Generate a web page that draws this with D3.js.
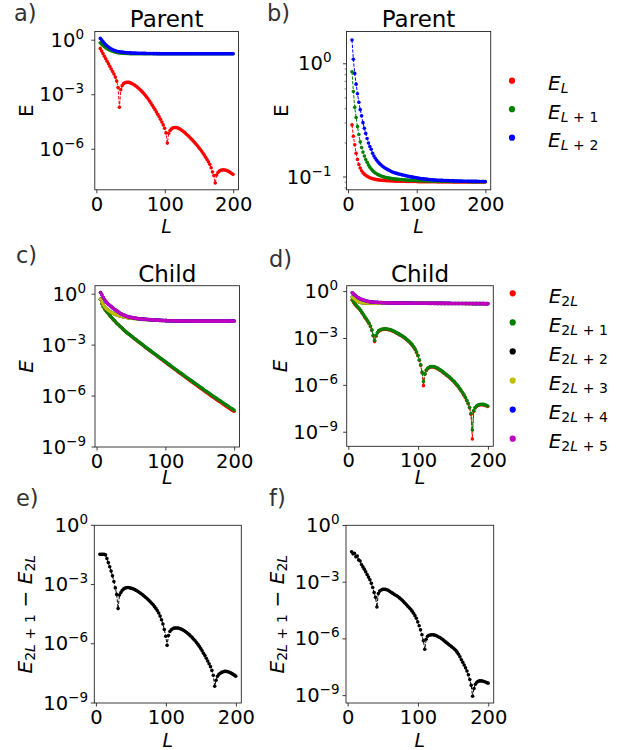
<!DOCTYPE html>
<html>
<head>
<meta charset="utf-8">
<script src="https://cdn.jsdelivr.net/npm/d3@7"></script>
<style>
  body { margin: 0; background: #fff; }
  svg { display: block; }
  text { font-family: "DejaVu Sans", sans-serif; white-space: pre; }
</style>
</head>
<body>
<svg id="fig" width="630" height="750"></svg>
<script>
// Chain length L (odd values 5 ... 199)
const L = d3.range(5, 200, 2);

// ---- Parent, open chain: log10 of the three lowest levels ----
const aEL = [
  -0.45,-0.60,-0.74,-0.88,-1.02,-1.16,-1.30,-1.44,-1.58,-1.72,
  -1.86,-2.03,-2.25,-2.60,-3.69,-2.72,-2.50,-2.39,-2.34,-2.32,
  -2.31,-2.32,-2.35,-2.38,-2.42,-2.47,-2.52,-2.58,-2.64,-2.71,
  -2.79,-2.87,-2.95,-3.04,-3.14,-3.24,-3.35,-3.46,-3.58,-3.70,
  -3.82,-3.95,-4.08,-4.21,-4.35,-4.50,-4.66,-4.85,-5.10,-5.66,
  -5.12,-4.97,-4.88,-4.83,-4.80,-4.80,-4.81,-4.84,-4.88,-4.93,
  -4.98,-5.04,-5.10,-5.17,-5.24,-5.31,-5.39,-5.47,-5.55,-5.63,
  -5.72,-5.81,-5.90,-6.00,-6.10,-6.21,-6.32,-6.44,-6.56,-6.69,
  -6.83,-7.02,-7.25,-7.45,-7.86,-7.42,-7.28,-7.20,-7.16,-7.14,
  -7.13,-7.14,-7.16,-7.19,-7.23,-7.28,-7.33,-7.38];
const aEL1 = [
  -0.14,-0.22,-0.29,-0.36,-0.42,-0.47,-0.51,-0.55,-0.58,-0.61,
  -0.635,-0.655,-0.672,-0.686,-0.697,-0.706,-0.714,-0.72,-0.725,-0.729,
  -0.733,-0.736,-0.739,-0.741,-0.743,-0.745,-0.746,-0.746,-0.747,-0.747,
  -0.747,-0.747,-0.747,-0.747,-0.747,-0.747,-0.747,-0.747,-0.747,-0.747,
  -0.747,-0.747,-0.747,-0.747,-0.747,-0.747,-0.747,-0.747,-0.747,-0.747,
  -0.747,-0.747,-0.747,-0.747,-0.747,-0.748,-0.748,-0.748,-0.748,-0.748,
  -0.748,-0.748,-0.748,-0.748,-0.748,-0.748,-0.748,-0.748,-0.748,-0.748,
  -0.748,-0.748,-0.748,-0.748,-0.748,-0.748,-0.748,-0.748,-0.748,-0.748,
  -0.748,-0.748,-0.748,-0.748,-0.748,-0.748,-0.748,-0.748,-0.748,-0.748,
  -0.748,-0.748,-0.748,-0.748,-0.748,-0.748,-0.748,-0.748];
const aEL2 = [
  0.10,0.02,-0.08,-0.17,-0.25,-0.32,-0.38,-0.43,-0.48,-0.52,
  -0.555,-0.58,-0.605,-0.62,-0.635,-0.648,-0.658,-0.666,-0.674,-0.681,
  -0.687,-0.692,-0.697,-0.701,-0.705,-0.708,-0.711,-0.714,-0.716,-0.718,
  -0.72,-0.722,-0.724,-0.726,-0.728,-0.73,-0.732,-0.734,-0.735,-0.736,
  -0.737,-0.738,-0.739,-0.74,-0.741,-0.741,-0.742,-0.742,-0.742,-0.743,
  -0.743,-0.743,-0.743,-0.743,-0.744,-0.744,-0.744,-0.744,-0.744,-0.744,
  -0.744,-0.744,-0.744,-0.744,-0.744,-0.744,-0.745,-0.745,-0.745,-0.745,
  -0.745,-0.745,-0.745,-0.745,-0.745,-0.745,-0.745,-0.745,-0.745,-0.745,
  -0.745,-0.745,-0.745,-0.745,-0.745,-0.745,-0.745,-0.745,-0.745,-0.745,
  -0.745,-0.745,-0.745,-0.745,-0.745,-0.745,-0.745,-0.745];

// ---- Parent, periodic chain ----
const bEL = [
  -0.54,-0.64,-0.715,-0.79,-0.845,-0.89,-0.92,-0.945,-0.962,-0.975,
  -0.985,-0.993,-1.0,-1.006,-1.011,-1.015,-1.018,-1.021,-1.023,-1.025,
  -1.027,-1.028,-1.029,-1.03,-1.031,-1.032,-1.033,-1.033,-1.034,-1.034,
  -1.035,-1.035,-1.036,-1.036,-1.037,-1.037,-1.037,-1.038,-1.038,-1.038,
  -1.039,-1.039,-1.039,-1.039,-1.04,-1.04,-1.04,-1.04,-1.041,-1.041,
  -1.041,-1.041,-1.041,-1.041,-1.042,-1.042,-1.042,-1.042,-1.042,-1.042,
  -1.042,-1.042,-1.043,-1.043,-1.043,-1.043,-1.043,-1.043,-1.043,-1.043,
  -1.043,-1.043,-1.043,-1.043,-1.044,-1.044,-1.044,-1.044,-1.044,-1.044,
  -1.044,-1.044,-1.044,-1.044,-1.044,-1.044,-1.044,-1.044,-1.044,-1.044,
  -1.044,-1.044,-1.044,-1.044,-1.044,-1.044,-1.044,-1.044];
const bEL1 = [
  -0.07,-0.245,-0.385,-0.475,-0.555,-0.625,-0.69,-0.74,-0.78,-0.815,
  -0.845,-0.87,-0.893,-0.913,-0.93,-0.944,-0.955,-0.964,-0.972,-0.979,
  -0.985,-0.99,-0.995,-0.999,-1.002,-1.005,-1.008,-1.01,-1.012,-1.014,
  -1.016,-1.018,-1.019,-1.02,-1.021,-1.022,-1.023,-1.024,-1.025,-1.026,
  -1.027,-1.028,-1.029,-1.029,-1.03,-1.03,-1.031,-1.031,-1.032,-1.032,
  -1.033,-1.033,-1.033,-1.034,-1.034,-1.034,-1.035,-1.035,-1.035,-1.036,
  -1.036,-1.036,-1.037,-1.037,-1.037,-1.037,-1.038,-1.038,-1.038,-1.038,
  -1.038,-1.039,-1.039,-1.039,-1.039,-1.039,-1.039,-1.04,-1.04,-1.04,
  -1.04,-1.04,-1.04,-1.04,-1.04,-1.041,-1.041,-1.041,-1.041,-1.041,
  -1.041,-1.041,-1.041,-1.041,-1.041,-1.041,-1.041,-1.041];
const bEL2 = [
  0.21,0.04,-0.085,-0.18,-0.265,-0.34,-0.405,-0.46,-0.52,-0.57,
  -0.615,-0.66,-0.70,-0.73,-0.755,-0.79,-0.815,-0.835,-0.853,-0.868,
  -0.88,-0.892,-0.903,-0.912,-0.92,-0.928,-0.935,-0.941,-0.947,-0.953,
  -0.958,-0.962,-0.966,-0.97,-0.973,-0.976,-0.979,-0.982,-0.985,-0.988,
  -0.991,-0.994,-0.997,-0.999,-1.001,-1.003,-1.005,-1.007,-1.009,-1.011,
  -1.013,-1.015,-1.016,-1.018,-1.019,-1.021,-1.022,-1.023,-1.024,-1.025,
  -1.026,-1.027,-1.028,-1.029,-1.029,-1.03,-1.03,-1.031,-1.031,-1.032,
  -1.032,-1.033,-1.033,-1.034,-1.034,-1.035,-1.035,-1.035,-1.036,-1.036,
  -1.036,-1.037,-1.037,-1.037,-1.038,-1.038,-1.038,-1.038,-1.039,-1.039,
  -1.039,-1.039,-1.04,-1.04,-1.04,-1.04,-1.04,-1.04];

// ---- Child, left column: six lowest levels ----
const cE0 = [
  -0.30,-0.55,-0.74,-0.87,-0.98,-1.08,-1.17,-1.28,-1.37,-1.46,
  -1.55,-1.64,-1.73,-1.80,-1.88,-1.95,-2.03,-2.11,-2.18,-2.25,
  -2.32,-2.38,-2.45,-2.51,-2.58,-2.64,-2.70,-2.77,-2.83,-2.89,
  -2.95,-3.02,-3.09,-3.15,-3.21,-3.27,-3.33,-3.39,-3.45,-3.51,
  -3.57,-3.63,-3.70,-3.76,-3.82,-3.88,-3.94,-4.00,-4.06,-4.12,
  -4.18,-4.24,-4.30,-4.36,-4.42,-4.48,-4.55,-4.61,-4.67,-4.72,
  -4.78,-4.84,-4.90,-4.96,-5.02,-5.08,-5.14,-5.20,-5.26,-5.32,
  -5.37,-5.43,-5.49,-5.55,-5.61,-5.67,-5.73,-5.79,-5.84,-5.90,
  -5.96,-6.02,-6.07,-6.13,-6.19,-6.24,-6.30,-6.35,-6.41,-6.47,
  -6.52,-6.58,-6.63,-6.69,-6.75,-6.80,-6.85,-6.90];
const cE1 = [
  -0.30,-0.55,-0.74,-0.87,-0.98,-1.08,-1.17,-1.28,-1.37,-1.46,
  -1.55,-1.64,-1.73,-1.80,-1.88,-1.95,-2.03,-2.11,-2.18,-2.25,
  -2.32,-2.38,-2.44,-2.50,-2.57,-2.63,-2.69,-2.76,-2.82,-2.88,
  -2.94,-3.00,-3.07,-3.13,-3.19,-3.25,-3.31,-3.37,-3.43,-3.49,
  -3.55,-3.61,-3.67,-3.73,-3.79,-3.85,-3.91,-3.97,-4.03,-4.09,
  -4.15,-4.21,-4.27,-4.33,-4.39,-4.45,-4.51,-4.57,-4.63,-4.68,
  -4.74,-4.80,-4.86,-4.92,-4.98,-5.03,-5.09,-5.15,-5.21,-5.27,
  -5.32,-5.38,-5.44,-5.50,-5.55,-5.61,-5.67,-5.73,-5.78,-5.84,
  -5.90,-5.95,-6.01,-6.06,-6.12,-6.17,-6.23,-6.28,-6.34,-6.39,
  -6.45,-6.50,-6.56,-6.61,-6.67,-6.72,-6.77,-6.82];
const cE3 = [
  -0.30,-0.48,-0.63,-0.745,-0.84,-0.91,-0.975,-1.03,-1.08,-1.12,
  -1.16,-1.195,-1.225,-1.255,-1.28,-1.30,-1.32,-1.34,-1.355,-1.37,
  -1.385,-1.395,-1.405,-1.415,-1.425,-1.435,-1.445,-1.455,-1.463,-1.47,
  -1.478,-1.484,-1.49,-1.495,-1.50,-1.505,-1.51,-1.515,-1.52,-1.525,
  -1.53,-1.534,-1.538,-1.542,-1.546,-1.55,-1.553,-1.556,-1.559,-1.562,
  -1.564,-1.566,-1.568,-1.57,-1.572,-1.574,-1.575,-1.577,-1.578,-1.579,
  -1.58,-1.581,-1.582,-1.583,-1.584,-1.585,-1.585,-1.585,-1.585,-1.585,
  -1.585,-1.585,-1.585,-1.585,-1.585,-1.585,-1.585,-1.585,-1.585,-1.585,
  -1.585,-1.585,-1.585,-1.585,-1.585,-1.585,-1.585,-1.585,-1.585,-1.585,
  -1.585,-1.585,-1.585,-1.585,-1.585,-1.585,-1.585,-1.585];
const cE5 = [
  0.10,-0.04,-0.20,-0.33,-0.45,-0.54,-0.61,-0.68,-0.75,-0.82,
  -0.885,-0.94,-0.995,-1.05,-1.11,-1.16,-1.20,-1.235,-1.265,-1.295,
  -1.32,-1.34,-1.36,-1.38,-1.395,-1.41,-1.42,-1.435,-1.445,-1.455,
  -1.46,-1.468,-1.475,-1.482,-1.49,-1.495,-1.50,-1.507,-1.513,-1.52,
  -1.525,-1.53,-1.535,-1.54,-1.545,-1.55,-1.553,-1.556,-1.559,-1.562,
  -1.564,-1.566,-1.568,-1.57,-1.572,-1.574,-1.575,-1.577,-1.578,-1.579,
  -1.58,-1.581,-1.582,-1.583,-1.584,-1.585,-1.585,-1.585,-1.585,-1.585,
  -1.585,-1.585,-1.585,-1.585,-1.585,-1.585,-1.585,-1.585,-1.585,-1.585,
  -1.585,-1.585,-1.585,-1.585,-1.585,-1.585,-1.585,-1.585,-1.585,-1.585,
  -1.585,-1.585,-1.585,-1.585,-1.585,-1.585,-1.585,-1.585];
// E_{2L+2} lies under E_{2L+3} and E_{2L+4} under E_{2L+5}
const cE2 = cE3;
const cE4 = cE5;

// ---- Child, right column ----
const dE0 = [
  -0.55,-0.69,-0.82,-0.93,-1.02,-1.11,-1.23,-1.37,-1.50,-1.64,
  -1.77,-1.90,-2.04,-2.23,-2.48,-2.84,-3.20,-2.86,-2.65,-2.53,
  -2.47,-2.44,-2.42,-2.41,-2.41,-2.42,-2.44,-2.46,-2.49,-2.53,
  -2.57,-2.62,-2.67,-2.72,-2.77,-2.82,-2.88,-2.94,-3.01,-3.08,
  -3.16,-3.24,-3.33,-3.44,-3.56,-3.71,-3.89,-4.10,-4.39,-4.72,
  -5.20,-6.02,-5.29,-5.05,-4.94,-4.87,-4.83,-4.82,-4.83,-4.85,
  -4.89,-4.93,-4.98,-5.04,-5.10,-5.17,-5.24,-5.31,-5.38,-5.45,
  -5.53,-5.61,-5.70,-5.79,-5.89,-5.99,-6.11,-6.23,-6.36,-6.49,
  -6.63,-6.79,-6.98,-7.18,-7.44,-7.85,-9.43,-7.66,-7.45,-7.35,
  -7.29,-7.26,-7.24,-7.24,-7.25,-7.28,-7.31,-7.35];
const dE1 = [
  -0.52,-0.66,-0.79,-0.90,-0.99,-1.08,-1.20,-1.34,-1.47,-1.61,
  -1.74,-1.87,-2.01,-2.20,-2.45,-2.80,-3.12,-2.82,-2.62,-2.50,
  -2.44,-2.41,-2.39,-2.38,-2.38,-2.39,-2.41,-2.43,-2.46,-2.50,
  -2.54,-2.59,-2.64,-2.69,-2.74,-2.79,-2.85,-2.91,-2.98,-3.05,
  -3.13,-3.21,-3.30,-3.41,-3.53,-3.68,-3.86,-4.07,-4.36,-4.68,
  -5.15,-5.76,-5.25,-5.02,-4.91,-4.84,-4.80,-4.79,-4.80,-4.82,
  -4.86,-4.90,-4.95,-5.01,-5.07,-5.14,-5.21,-5.28,-5.35,-5.42,
  -5.50,-5.58,-5.67,-5.76,-5.86,-5.96,-6.08,-6.20,-6.33,-6.46,
  -6.60,-6.76,-6.95,-7.15,-7.40,-7.80,-8.85,-7.62,-7.42,-7.32,
  -7.26,-7.23,-7.21,-7.21,-7.22,-7.25,-7.28,-7.32];
const dE3 = [
  -0.35,-0.43,-0.51,-0.58,-0.63,-0.67,-0.70,-0.715,-0.725,-0.73,
  -0.733,-0.735,-0.736,-0.737,-0.738,-0.738,-0.739,-0.739,-0.74,-0.74,
  -0.74,-0.74,-0.74,-0.74,-0.74,-0.74,-0.74,-0.74,-0.74,-0.74,
  -0.74,-0.74,-0.74,-0.74,-0.74,-0.74,-0.74,-0.74,-0.741,-0.741,
  -0.741,-0.742,-0.743,-0.743,-0.744,-0.744,-0.745,-0.746,-0.746,-0.747,
  -0.747,-0.748,-0.748,-0.749,-0.75,-0.75,-0.751,-0.751,-0.752,-0.753,
  -0.753,-0.754,-0.754,-0.755,-0.755,-0.756,-0.757,-0.757,-0.758,-0.759,
  -0.759,-0.76,-0.76,-0.761,-0.762,-0.762,-0.763,-0.763,-0.764,-0.765,
  -0.765,-0.766,-0.766,-0.767,-0.768,-0.768,-0.769,-0.769,-0.77,-0.77,
  -0.771,-0.771,-0.772,-0.772,-0.772,-0.773,-0.773,-0.773];
const dE5 = [
  -0.08,-0.15,-0.24,-0.32,-0.38,-0.43,-0.47,-0.51,-0.54,-0.57,
  -0.60,-0.62,-0.64,-0.655,-0.665,-0.675,-0.68,-0.685,-0.69,-0.695,
  -0.70,-0.705,-0.71,-0.713,-0.716,-0.719,-0.722,-0.725,-0.727,-0.729,
  -0.731,-0.732,-0.733,-0.734,-0.735,-0.735,-0.736,-0.737,-0.737,-0.738,
  -0.738,-0.739,-0.74,-0.74,-0.741,-0.741,-0.742,-0.743,-0.743,-0.744,
  -0.744,-0.745,-0.745,-0.746,-0.747,-0.747,-0.748,-0.748,-0.749,-0.75,
  -0.75,-0.751,-0.751,-0.752,-0.752,-0.753,-0.754,-0.754,-0.755,-0.756,
  -0.756,-0.757,-0.757,-0.758,-0.759,-0.759,-0.76,-0.76,-0.761,-0.762,
  -0.762,-0.763,-0.763,-0.764,-0.765,-0.765,-0.766,-0.766,-0.767,-0.767,
  -0.768,-0.768,-0.769,-0.769,-0.769,-0.77,-0.77,-0.77];
const dE2 = dE3;
const dE4 = dE5;

// ---- Gap E_{2L+1} - E_{2L} ----
const eGap = [
  -1.47,-1.47,-1.47,-1.47,-1.50,-1.68,-1.89,-2.10,-2.32,-2.56,
  -2.85,-3.17,-3.50,-4.22,-3.53,-3.40,-3.29,-3.22,-3.18,-3.16,
  -3.15,-3.16,-3.18,-3.20,-3.23,-3.26,-3.30,-3.34,-3.39,-3.44,
  -3.49,-3.55,-3.61,-3.67,-3.73,-3.80,-3.87,-3.95,-4.03,-4.12,
  -4.21,-4.32,-4.44,-4.60,-4.78,-5.00,-5.28,-5.62,-6.08,-5.58,
  -5.38,-5.29,-5.24,-5.21,-5.20,-5.20,-5.21,-5.23,-5.26,-5.29,
  -5.33,-5.38,-5.43,-5.49,-5.55,-5.62,-5.69,-5.77,-5.85,-5.94,
  -6.03,-6.13,-6.24,-6.36,-6.48,-6.60,-6.73,-6.87,-7.01,-7.16,
  -7.35,-7.60,-8.15,-7.85,-7.65,-7.55,-7.49,-7.45,-7.42,-7.40,
  -7.40,-7.41,-7.43,-7.46,-7.50,-7.54,-7.59,-7.64];
const fGap = [
  -1.39,-1.50,-1.47,-1.66,-1.62,-1.82,-1.88,-2.06,-2.19,-2.31,
  -2.45,-2.59,-2.73,-2.87,-3.06,-3.28,-3.55,-3.80,-4.31,-3.60,
  -3.47,-3.41,-3.38,-3.37,-3.38,-3.40,-3.43,-3.48,-3.53,-3.58,
  -3.63,-3.68,-3.72,-3.77,-3.83,-3.89,-3.96,-4.04,-4.11,-4.19,
  -4.27,-4.35,-4.43,-4.53,-4.64,-4.77,-4.91,-5.10,-5.30,-5.52,
  -5.78,-6.10,-6.55,-6.02,-5.86,-5.81,-5.79,-5.78,-5.78,-5.80,
  -5.82,-5.86,-5.90,-5.94,-5.99,-6.05,-6.11,-6.17,-6.23,-6.29,
  -6.35,-6.41,-6.47,-6.53,-6.60,-6.70,-6.81,-6.94,-7.10,-7.24,
  -7.38,-7.53,-7.70,-7.90,-8.15,-8.45,-9.03,-8.62,-8.40,-8.29,
  -8.24,-8.22,-8.22,-8.23,-8.25,-8.28,-8.31,-8.34];

// axis ticks
const xTicks = [0, 100, 200];
const xLim = [-3, 207];

// legend entries (subscripts)
const parentLabels = ["L", "L+1", "L+2"];
const childLabels = ["2L", "2L+1", "2L+2", "2L+3", "2L+4", "2L+5"];

const RED = "#ff0000", GREEN = "#008000", BLUE = "#0000ff",
      BLACK = "#000000", YELLOW = "#bfbf00", MAGENTA = "#bf00bf";
const parentColors = [RED, GREEN, BLUE];
const childColors = [RED, GREEN, BLACK, YELLOW, BLUE, MAGENTA];

const panels = [
  { box: [94.8, 31.5, 238.5, 189.8], ylog: [0.479, -8.23], yTicks: [0, -3, -6], yLabRight: 84,
    series: [aEL, aEL1, aEL2], colors: parentColors, title: "Parent", titleY: 26.5,
    letter: "a)", letterXY: [14, 21], ylabel: "upright", ylabelX: 33, xlabelY: 233 },
  { box: [346.5, 31.5, 490.7, 189.8], ylog: [0.285, -1.113], yTicks: [0, -1], yLabRight: 331.5, minor: true,
    series: [bEL, bEL1, bEL2], colors: parentColors, title: "Parent", titleY: 26.5,
    letter: "b)", letterXY: [267, 21], ylabel: "upright", ylabelX: 288, xlabelY: 233,
    legend: { x: 512, y0: 80.7, dy: 28.5, labels: parentLabels } },
  { box: [95, 285.7, 239.5, 447], ylog: [0.5, -9.0], yTicks: [0, -3, -6, -9], yLabRight: 86,
    series: [cE0, cE1, cE2, cE3, cE4, cE5], colors: childColors, title: "Child", titleY: 281.5,
    letter: "c)", letterXY: [16, 263], ylabel: "italic", ylabelX: 33, xlabelY: 484 },
  { box: [346.7, 285.7, 493.3, 446.3], ylog: [0.378, -9.9], yTicks: [0, -3, -6, -9], yLabRight: 338,
    series: [dE0, dE1, dE2, dE3, dE4, dE5], colors: childColors, title: "Child", titleY: 281.5,
    letter: "d)", letterXY: [269, 267], ylabel: "italic", ylabelX: 287, xlabelY: 484,
    legend: { x: 512.7, y0: 293.3, dy: 29.08, labels: childLabels } },
  { box: [94.3, 525.3, 241.3, 703], ylog: [0, -9], yTicks: [0, -3, -6, -9], yLabRight: 88,
    series: [eGap], colors: [BLACK],
    letter: "e)", letterXY: [16, 506], ylabel: "gap", ylabelX: 32, xlabelY: 747 },
  { box: [346, 525.3, 493.7, 703], ylog: [0.01, -9.39], yTicks: [0, -3, -6, -9], yLabRight: 339.5,
    series: [fGap], colors: [BLACK],
    letter: "f)", letterXY: [269, 506], ylabel: "gap", ylabelX: 284, xlabelY: 747 }
];

const svg = d3.select("#fig");
svg.append("rect").attr("width", 630).attr("height", 750).attr("fill", "#fff");

const AXIS = "#262626";
const TICK_FS = 19.5;

// E with a math-style subscript: letters italic, digits and '+' upright
function subscriptE(text, sub, fs) {
  text.append("tspan").attr("font-style", "italic").text("E");
  const s = text.append("tspan").attr("font-size", fs * 0.7).attr("dy", fs * 0.17);
  sub.split("").forEach(ch => {
    if (ch === "+") s.append("tspan").text("\u2004+\u2004");
    else if (/[A-Za-z]/.test(ch)) s.append("tspan").attr("font-style", "italic").text(ch);
    else s.append("tspan").text(ch);
  });
  return s;
}

panels.forEach(p => {
  const [x0, y0, x1, y1] = p.box;
  const g = svg.append("g");
  const x = d3.scaleLinear().domain(xLim).range([x0, x1]);
  const y = d3.scaleLog().domain([10 ** p.ylog[0], 10 ** p.ylog[1]]).range([y0, y1]);

  // data: dashed connecting line plus dot markers, one series at a time
  p.series.forEach((vals, k) => {
    const pts = L.map((l, i) => [l, 10 ** vals[i]]);
    const col = p.colors[k];
    g.append("path")
      .attr("d", d3.line().x(d => x(d[0])).y(d => y(d[1]))(pts))
      .attr("fill", "none").attr("stroke", col)
      .attr("stroke-width", 1).attr("stroke-dasharray", "3.3,1.4");
    g.append("g").selectAll("circle").data(pts).join("circle")
      .attr("cx", d => x(d[0])).attr("cy", d => y(d[1]))
      .attr("r", 1.8).attr("fill", col);
  });

  // frame
  g.append("rect").attr("x", x0).attr("y", y0)
    .attr("width", x1 - x0).attr("height", y1 - y0)
    .attr("fill", "none").attr("stroke", AXIS).attr("stroke-width", 0.9);

  // x ticks and labels
  const xt = g.append("g");
  xTicks.forEach(t => {
    xt.append("line").attr("x1", x(t)).attr("x2", x(t)).attr("y1", y1).attr("y2", y1 + 3.5)
      .attr("stroke", AXIS).attr("stroke-width", 0.9);
    xt.append("text").attr("x", x(t)).attr("y", y1 + 21).attr("text-anchor", "middle")
      .attr("font-size", TICK_FS).attr("fill", "#000").text(t);
  });

  // y ticks with 10^n labels
  const yt = g.append("g");
  p.yTicks.forEach(e => {
    const py = y(10 ** e);
    yt.append("line").attr("x1", x0 - 3.5).attr("x2", x0).attr("y1", py).attr("y2", py)
      .attr("stroke", AXIS).attr("stroke-width", 0.9);
    const t = yt.append("text").attr("x", p.yLabRight).attr("y", py + 6.5)
      .attr("text-anchor", "end").attr("font-size", TICK_FS).attr("fill", "#000");
    t.append("tspan").text("10");
    t.append("tspan").attr("font-size", 13.5).attr("dy", -8)
      .text(e === 0 ? "0" : "\u2212" + Math.abs(e));
  });
  if (p.minor) {
    const lo = Math.floor(p.ylog[1]), hi = Math.ceil(p.ylog[0]);
    for (let dec = lo; dec < hi; dec++) {
      for (let m = 2; m <= 9; m++) {
        const v = m * 10 ** dec;
        if (Math.log10(v) > p.ylog[0] || Math.log10(v) < p.ylog[1]) continue;
        yt.append("line").attr("x1", x0 - 2).attr("x2", x0).attr("y1", y(v)).attr("y2", y(v))
          .attr("stroke", AXIS).attr("stroke-width", 0.6);
      }
    }
  }

  // axis labels
  const cx = (x0 + x1) / 2, cy = (y0 + y1) / 2;
  g.append("text").attr("x", cx).attr("y", p.xlabelY).attr("text-anchor", "middle")
    .attr("font-size", 19).attr("font-style", "italic").text("L");

  const yl = g.append("text").attr("text-anchor", "middle").attr("font-size", 20)
    .attr("transform", `translate(${p.ylabelX},${cy}) rotate(-90)`);
  if (p.ylabel === "upright") yl.text("E");
  else if (p.ylabel === "italic") yl.attr("font-style", "italic").text("E");
  else {
    subscriptE(yl, "2L+1", 20);
    yl.append("tspan").attr("dy", -20 * 0.17).text("\u2004\u2212\u2004");
    subscriptE(yl, "2L", 20);
  }

  // title and panel letter
  if (p.title) {
    g.append("text").attr("x", cx).attr("y", p.titleY).attr("text-anchor", "middle")
      .attr("font-size", 23).attr("fill", "#000").text(p.title);
  }
  g.append("text").attr("x", p.letterXY[0]).attr("y", p.letterXY[1])
    .attr("font-size", 22.5).attr("fill", "#333").text(p.letter);

  // legend
  if (p.legend) {
    const lg = g.append("g");
    p.legend.labels.forEach((lab, k) => {
      const ly = p.legend.y0 + k * p.legend.dy;
      lg.append("circle").attr("cx", p.legend.x).attr("cy", ly).attr("r", 3.1)
        .attr("fill", p.colors[k]);
      const t = lg.append("text").attr("x", p.legend.x + 36).attr("y", ly + 9.3)
        .attr("font-size", 20).attr("fill", "#000");
      subscriptE(t, lab, 20);
    });
  }
});
</script>
</body>
</html>
